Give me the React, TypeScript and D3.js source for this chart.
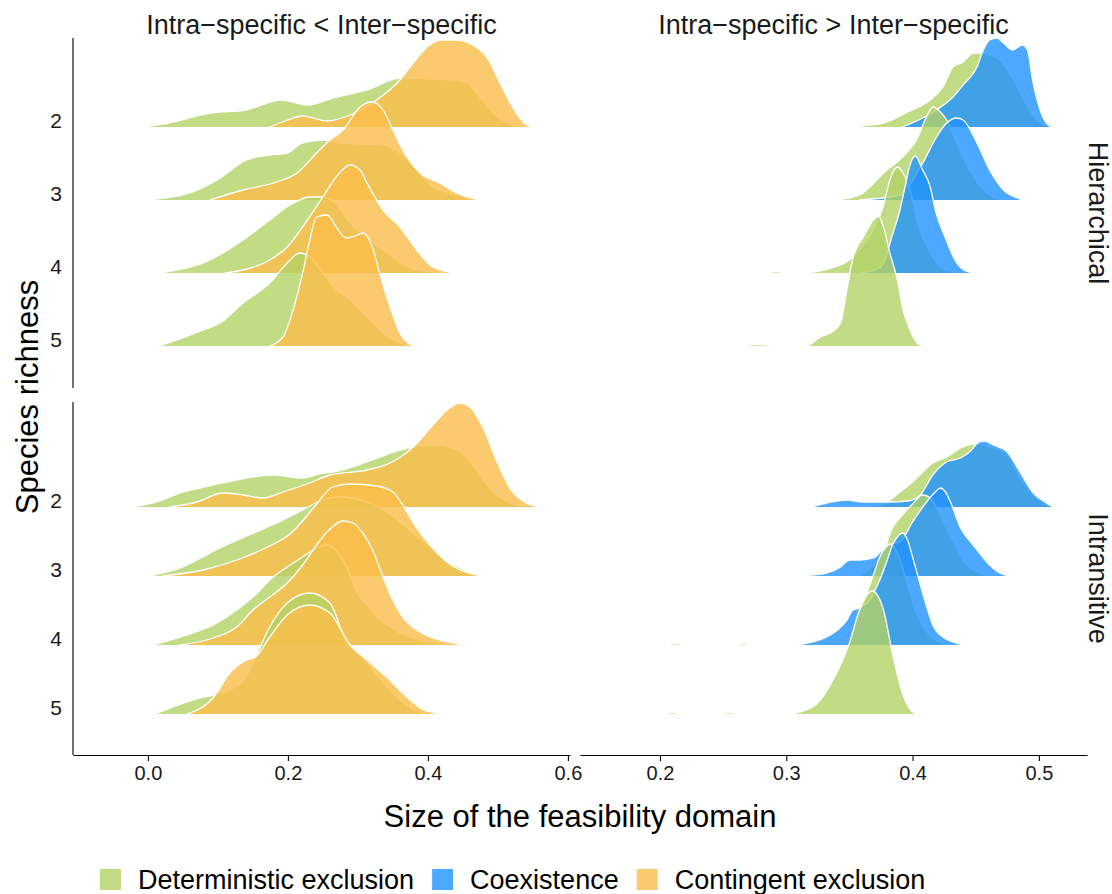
import React, { useEffect, useRef } from 'react'
import * as d3 from 'd3'

const colLabels = ['Intra\u2212specific < Inter\u2212specific', 'Intra\u2212specific > Inter\u2212specific']
const rowLabels = ['Hierarchical', 'Intransitive']
const richness = ['2', '3', '4', '5']
const groupNames = ['Deterministic exclusion', 'Coexistence', 'Contingent exclusion']
const groupColors = ['#b3d267', '#2092ff', '#fbbd4a']
const leftTicks = [0, 0.2, 0.4, 0.6]
const rightTicks = [0.2, 0.3, 0.4, 0.5]

// density curves: [size of feasibility domain, density]
// Hierarchical, intra < inter
const hlDet2 = [[-0.01, 0], [0.03, 0.04], [0.09, 0.14], [0.14, 0.17], [0.19, 0.27], [0.23, 0.22], [0.264, 0.29], [0.313, 0.37], [0.36, 0.49], [0.403, 0.48], [0.439, 0.47], [0.456, 0.44], [0.474, 0.3], [0.493, 0.14], [0.521, 0.02], [0.541, 0]]
const hlCont2 = [[0.174, 0], [0.196, 0.06], [0.221, 0.11], [0.256, 0.06], [0.289, 0.12], [0.327, 0.27], [0.36, 0.47], [0.379, 0.64], [0.399, 0.8], [0.417, 0.87], [0.441, 0.87], [0.464, 0.82], [0.484, 0.7], [0.503, 0.44], [0.521, 0.2], [0.541, 0.02], [0.553, 0]]
const hlDet3 = [[-0.001, 0], [0.06, 0.07], [0.099, 0.2], [0.141, 0.4], [0.174, 0.45], [0.199, 0.47], [0.221, 0.57], [0.25, 0.6], [0.274, 0.57], [0.336, 0.55], [0.36, 0.47], [0.384, 0.3], [0.407, 0.13], [0.431, 0.07], [0.464, 0]]
const hlCont3 = [[0.089, 0], [0.136, 0.1], [0.184, 0.18], [0.213, 0.27], [0.241, 0.47], [0.26, 0.6], [0.279, 0.7], [0.303, 0.93], [0.32, 0.98], [0.336, 0.9], [0.35, 0.7], [0.37, 0.43], [0.389, 0.27], [0.417, 0.17], [0.441, 0.07], [0.474, 0]]
const hlDet4 = [[0.017, 0], [0.079, 0.1], [0.136, 0.33], [0.174, 0.53], [0.203, 0.68], [0.231, 0.76], [0.25, 0.76], [0.267, 0.7], [0.289, 0.5], [0.336, 0.23], [0.374, 0.05], [0.417, 0]]
const hlCont4 = [[0.11, 0], [0.121, 0.01], [0.174, 0.13], [0.199, 0.26], [0.221, 0.46], [0.25, 0.76], [0.27, 0.97], [0.289, 1.08], [0.303, 1.03], [0.313, 0.9], [0.336, 0.63], [0.36, 0.46], [0.384, 0.23], [0.407, 0.06], [0.439, 0]]
const hlDet5 = [[0.017, 0], [0.079, 0.16], [0.103, 0.23], [0.136, 0.43], [0.174, 0.63], [0.199, 0.83], [0.217, 0.93], [0.231, 0.89], [0.246, 0.77], [0.264, 0.6], [0.289, 0.46], [0.313, 0.29], [0.336, 0.13], [0.36, 0.03], [0.374, 0]]
const hlCont5 = [[0.174, 0], [0.193, 0.09], [0.207, 0.35], [0.221, 0.73], [0.231, 1.05], [0.241, 1.29], [0.256, 1.31], [0.27, 1.18], [0.284, 1.08], [0.296, 1.1], [0.307, 1.13], [0.32, 1.0], [0.331, 0.73], [0.346, 0.39], [0.36, 0.13], [0.374, 0.02], [0.384, 0]]

// Hierarchical, intra > inter
const hrDet2 = [[0.348, 0], [0.377, 0.04], [0.396, 0.15], [0.414, 0.27], [0.424, 0.4], [0.432, 0.6], [0.44, 0.65], [0.448, 0.74], [0.453, 0.74], [0.467, 0.69], [0.475, 0.57], [0.483, 0.4], [0.491, 0.2], [0.501, 0.04], [0.509, 0]]
const hrCoex2 = [[0.392, 0], [0.419, 0.17], [0.432, 0.3], [0.44, 0.42], [0.451, 0.6], [0.456, 0.77], [0.461, 0.87], [0.467, 0.89], [0.472, 0.84], [0.479, 0.77], [0.487, 0.82], [0.491, 0.77], [0.495, 0.47], [0.501, 0.17], [0.506, 0.04], [0.511, 0]]
const hrDet3 = [[0.34, 0], [0.358, 0.05], [0.377, 0.27], [0.392, 0.43], [0.403, 0.6], [0.411, 0.83], [0.416, 0.93], [0.422, 0.88], [0.427, 0.8], [0.435, 0.57], [0.445, 0.3], [0.456, 0.1], [0.469, 0]]
const hrCoex3 = [[0.358, 0], [0.39, 0.05], [0.408, 0.37], [0.419, 0.63], [0.427, 0.77], [0.435, 0.82], [0.44, 0.8], [0.451, 0.57], [0.461, 0.3], [0.472, 0.1], [0.483, 0.02], [0.487, 0]]
const hrDet4 = [[0.285, 0], [0.293, 0.015], [0.3, 0], [0.311, 0], [0.343, 0.08], [0.358, 0.23], [0.369, 0.43], [0.377, 0.68], [0.382, 0.93], [0.388, 1.06], [0.392, 1.01], [0.398, 0.83], [0.404, 0.5], [0.414, 0.2], [0.422, 0.06], [0.432, 0.01], [0.44, 0]]
const hrCoex4 = [[0.358, 0], [0.374, 0.05], [0.378, 0.13], [0.384, 0.38], [0.39, 0.63], [0.394, 0.86], [0.398, 1.08], [0.402, 1.17], [0.408, 1.03], [0.414, 0.86], [0.418, 0.63], [0.426, 0.35], [0.434, 0.12], [0.442, 0.02], [0.45, 0]]
const hrDet5 = [[0.262, 0], [0.28, 0.015], [0.295, 0], [0.316, 0], [0.327, 0.09], [0.335, 0.13], [0.343, 0.23], [0.348, 0.56], [0.353, 0.89], [0.361, 1.09], [0.369, 1.26], [0.373, 1.3], [0.377, 1.19], [0.382, 0.93], [0.388, 0.66], [0.392, 0.39], [0.398, 0.16], [0.403, 0.04], [0.408, 0]]

// Intransitive, intra < inter
const ilDet2 = [[-0.023, 0], [0.013, 0.05], [0.046, 0.14], [0.093, 0.22], [0.141, 0.29], [0.179, 0.32], [0.221, 0.29], [0.25, 0.34], [0.264, 0.35], [0.313, 0.45], [0.36, 0.57], [0.379, 0.6], [0.407, 0.62], [0.436, 0.59], [0.456, 0.49], [0.474, 0.32], [0.493, 0.15], [0.517, 0.04], [0.541, 0]]
const ilCont2 = [[0.031, 0], [0.07, 0.05], [0.107, 0.14], [0.136, 0.12], [0.164, 0.09], [0.193, 0.15], [0.231, 0.24], [0.26, 0.32], [0.313, 0.37], [0.346, 0.44], [0.379, 0.6], [0.407, 0.82], [0.431, 0.99], [0.446, 1.04], [0.46, 1.0], [0.479, 0.79], [0.499, 0.45], [0.517, 0.19], [0.541, 0.04], [0.56, 0]]
const ilDet3 = [[0.003, 0], [0.046, 0.08], [0.103, 0.28], [0.141, 0.4], [0.184, 0.53], [0.221, 0.66], [0.246, 0.75], [0.274, 0.79], [0.313, 0.74], [0.341, 0.64], [0.37, 0.48], [0.399, 0.31], [0.421, 0.18], [0.446, 0.08], [0.474, 0]]
const ilCont3 = [[0.021, 0], [0.079, 0.06], [0.127, 0.16], [0.174, 0.3], [0.203, 0.42], [0.221, 0.55], [0.241, 0.72], [0.264, 0.89], [0.289, 0.92], [0.327, 0.9], [0.35, 0.84], [0.364, 0.71], [0.384, 0.48], [0.407, 0.28], [0.427, 0.14], [0.446, 0.06], [0.464, 0.02], [0.481, 0]]
const ilDet4 = [[0.007, 0], [0.056, 0.1], [0.093, 0.2], [0.127, 0.35], [0.156, 0.52], [0.174, 0.65], [0.199, 0.78], [0.221, 0.88], [0.241, 0.97], [0.256, 1.0], [0.274, 0.9], [0.289, 0.7], [0.299, 0.52], [0.313, 0.4], [0.327, 0.28], [0.346, 0.18], [0.36, 0.12], [0.389, 0.05], [0.417, 0.02], [0.446, 0]]
const ilCont4 = [[0.046, 0], [0.093, 0.07], [0.127, 0.18], [0.15, 0.35], [0.174, 0.48], [0.199, 0.62], [0.221, 0.8], [0.241, 1.0], [0.256, 1.13], [0.279, 1.24], [0.293, 1.22], [0.307, 1.12], [0.321, 0.95], [0.336, 0.68], [0.35, 0.45], [0.364, 0.28], [0.384, 0.15], [0.417, 0.05], [0.456, 0]]
const ilDet5 = [[0.01, 0], [0.074, 0.16], [0.093, 0.19], [0.117, 0.24], [0.141, 0.38], [0.154, 0.57], [0.174, 0.87], [0.199, 1.11], [0.231, 1.21], [0.26, 1.11], [0.284, 0.71], [0.299, 0.61], [0.321, 0.44], [0.35, 0.21], [0.379, 0.04], [0.407, 0]]
const ilCont5 = [[0.056, 0], [0.093, 0.16], [0.117, 0.41], [0.141, 0.54], [0.154, 0.57], [0.174, 0.77], [0.199, 0.99], [0.231, 1.09], [0.26, 1.01], [0.289, 0.69], [0.313, 0.54], [0.341, 0.37], [0.37, 0.17], [0.394, 0.04], [0.421, 0]]

// Intransitive, intra > inter
const irDet2 = [[0.37, 0], [0.38, 0.05], [0.39, 0.15], [0.4, 0.25], [0.416, 0.44], [0.427, 0.5], [0.438, 0.59], [0.448, 0.63], [0.456, 0.62], [0.464, 0.59], [0.475, 0.52], [0.485, 0.29], [0.495, 0.12], [0.506, 0.02], [0.513, 0]]
const irCoex2 = [[0.319, 0], [0.332, 0.04], [0.348, 0.07], [0.361, 0.05], [0.372, 0.05], [0.382, 0.05], [0.396, 0.06], [0.406, 0.12], [0.416, 0.32], [0.427, 0.45], [0.438, 0.49], [0.445, 0.55], [0.453, 0.65], [0.457, 0.66], [0.464, 0.62], [0.475, 0.55], [0.485, 0.35], [0.495, 0.15], [0.506, 0.04], [0.511, 0]]
const irDet3 = [[0.358, 0], [0.369, 0.11], [0.377, 0.24], [0.384, 0.48], [0.392, 0.61], [0.4, 0.72], [0.408, 0.81], [0.414, 0.78], [0.419, 0.68], [0.426, 0.5], [0.434, 0.3], [0.441, 0.14], [0.451, 0.04], [0.461, 0]]
const irCoex3 = [[0.308, 0], [0.332, 0.03], [0.343, 0.09], [0.35, 0.16], [0.358, 0.16], [0.369, 0.18], [0.38, 0.31], [0.39, 0.34], [0.4, 0.54], [0.411, 0.74], [0.418, 0.84], [0.422, 0.88], [0.426, 0.84], [0.43, 0.74], [0.438, 0.48], [0.448, 0.31], [0.461, 0.11], [0.469, 0.03], [0.477, 0]]
const irDet4 = [[0.205, 0], [0.213, 0.015], [0.222, 0], [0.258, 0], [0.266, 0.015], [0.274, 0], [0.343, 0], [0.35, 0.05], [0.357, 0.25], [0.362, 0.45], [0.369, 0.7], [0.374, 0.88], [0.379, 0.98], [0.382, 1.01], [0.386, 0.97], [0.39, 0.85], [0.396, 0.6], [0.402, 0.35], [0.41, 0.15], [0.418, 0.05], [0.426, 0]]
const irCoex4 = [[0.308, 0], [0.332, 0.08], [0.348, 0.25], [0.353, 0.35], [0.358, 0.37], [0.366, 0.45], [0.374, 0.65], [0.38, 0.85], [0.384, 1.0], [0.388, 1.08], [0.392, 1.12], [0.396, 1.05], [0.4, 0.88], [0.404, 0.7], [0.408, 0.52], [0.412, 0.35], [0.416, 0.2], [0.424, 0.08], [0.432, 0.03], [0.44, 0]]
const irDet5 = [[0.202, 0], [0.21, 0.015], [0.218, 0], [0.247, 0], [0.255, 0.015], [0.263, 0], [0.303, 0], [0.311, 0.02], [0.327, 0.14], [0.337, 0.34], [0.35, 0.71], [0.358, 1.04], [0.368, 1.23], [0.377, 1.04], [0.384, 0.61], [0.392, 0.21], [0.4, 0.02], [0.404, 0]]

type Ridge = { row: number; col: number; rich: string; group: number; pts: number[][] }

const ridges: Ridge[] = [
  { row: 0, col: 0, rich: '2', group: 0, pts: hlDet2 },
  { row: 0, col: 0, rich: '2', group: 2, pts: hlCont2 },
  { row: 0, col: 0, rich: '3', group: 0, pts: hlDet3 },
  { row: 0, col: 0, rich: '3', group: 2, pts: hlCont3 },
  { row: 0, col: 0, rich: '4', group: 0, pts: hlDet4 },
  { row: 0, col: 0, rich: '4', group: 2, pts: hlCont4 },
  { row: 0, col: 0, rich: '5', group: 0, pts: hlDet5 },
  { row: 0, col: 0, rich: '5', group: 2, pts: hlCont5 },
  { row: 0, col: 1, rich: '2', group: 0, pts: hrDet2 },
  { row: 0, col: 1, rich: '2', group: 1, pts: hrCoex2 },
  { row: 0, col: 1, rich: '3', group: 0, pts: hrDet3 },
  { row: 0, col: 1, rich: '3', group: 1, pts: hrCoex3 },
  { row: 0, col: 1, rich: '4', group: 0, pts: hrDet4 },
  { row: 0, col: 1, rich: '4', group: 1, pts: hrCoex4 },
  { row: 0, col: 1, rich: '5', group: 0, pts: hrDet5 },
  { row: 1, col: 0, rich: '2', group: 0, pts: ilDet2 },
  { row: 1, col: 0, rich: '2', group: 2, pts: ilCont2 },
  { row: 1, col: 0, rich: '3', group: 0, pts: ilDet3 },
  { row: 1, col: 0, rich: '3', group: 2, pts: ilCont3 },
  { row: 1, col: 0, rich: '4', group: 0, pts: ilDet4 },
  { row: 1, col: 0, rich: '4', group: 2, pts: ilCont4 },
  { row: 1, col: 0, rich: '5', group: 0, pts: ilDet5 },
  { row: 1, col: 0, rich: '5', group: 2, pts: ilCont5 },
  { row: 1, col: 1, rich: '2', group: 0, pts: irDet2 },
  { row: 1, col: 1, rich: '2', group: 1, pts: irCoex2 },
  { row: 1, col: 1, rich: '3', group: 0, pts: irDet3 },
  { row: 1, col: 1, rich: '3', group: 1, pts: irCoex3 },
  { row: 1, col: 1, rich: '4', group: 0, pts: irDet4 },
  { row: 1, col: 1, rich: '4', group: 1, pts: irCoex4 },
  { row: 1, col: 1, rich: '5', group: 0, pts: irDet5 },
]

const FONT = 'Liberation Sans, Arial, Helvetica, sans-serif'

function App() {
  const ref = useRef<SVGSVGElement>(null)

  useEffect(() => {
    document.body.style.margin = '0'
    const svg = d3.select(ref.current)
    svg.selectAll('*').remove()

    const colRanges = [[73, 570], [580, 1087]]
    const xDomains = [[-0.107, 0.603], [0.1367, 0.5381]]
    const rowRanges = [[38, 388], [402, 755]]
    const baseRanges = [[127, 346], [507, 714]]
    const xAxisY = 755
    const h = d3.scaleLinear().domain([0, 1]).range([0, 100])

    const defs = svg.append('defs')

    for (let row = 0; row < 2; row++) {
      const yb = d3.scalePoint().domain(richness).range(baseRanges[row])
      for (let col = 0; col < 2; col++) {
        const x = d3.scaleLinear().domain(xDomains[col]).range(colRanges[col])
        const id = `clip-${row}-${col}`
        defs.append('clipPath').attr('id', id)
          .append('rect')
          .attr('x', colRanges[col][0]).attr('y', rowRanges[row][0])
          .attr('width', colRanges[col][1] - colRanges[col][0])
          .attr('height', rowRanges[row][1] - rowRanges[row][0])

        const g = svg.append('g').attr('clip-path', `url(#${id})`)

        for (const rich of richness) {
          const base = yb(rich) as number
          for (let group = 0; group < 3; group++) {
            const r = ridges.find(d => d.row === row && d.col === col && d.rich === rich && d.group === group)
            if (!r) continue
            const area = d3.area<number[]>()
              .x(d => x(d[0]))
              .y0(base)
              .y1(d => base - h(d[1]))
              .curve(d3.curveMonotoneX)
            const line = d3.line<number[]>()
              .x(d => x(d[0]))
              .y(d => base - h(d[1]))
              .curve(d3.curveMonotoneX)
            g.append('path')
              .attr('d', area(r.pts))
              .attr('fill', groupColors[group])
              .attr('fill-opacity', 0.8)
            g.append('path')
              .attr('d', line(r.pts))
              .attr('fill', 'none')
              .attr('stroke', 'white')
              .attr('stroke-width', 1.3)
          }
        }
      }

      // y axis for this row
      const ya = svg.append('g')
        .attr('transform', 'translate(73,0)')
        .call(d3.axisLeft(yb).tickSize(0).tickPadding(11).tickSizeOuter(0))
      ya.select('.domain').remove()
      ya.append('line')
        .attr('y1', rowRanges[row][0]).attr('y2', rowRanges[row][1])
        .attr('stroke', 'black').attr('stroke-width', 1.1)
      ya.selectAll('text')
        .attr('dy', '0')
        .attr('fill', '#1a1a1a')
        .style('font-family', FONT)
        .style('font-size', '21px')

      // row strip label
      const cy = (rowRanges[row][0] + rowRanges[row][1]) / 2
      svg.append('text')
        .attr('transform', `translate(1098,${cy}) rotate(90)`)
        .attr('text-anchor', 'middle')
        .attr('dominant-baseline', 'central')
        .style('font-family', FONT)
        .style('font-size', '27px')
        .attr('fill', '#1a1a1a')
        .text(rowLabels[row])
    }

    for (let col = 0; col < 2; col++) {
      const x = d3.scaleLinear().domain(xDomains[col]).range(colRanges[col])
      const xa = svg.append('g')
        .attr('transform', `translate(0,${xAxisY})`)
        .call(d3.axisBottom(x)
          .tickValues(col === 0 ? leftTicks : rightTicks)
          .tickFormat(d3.format('.1f'))
          .tickSize(6)
          .tickSizeOuter(0)
          .tickPadding(5))
      xa.select('.domain').attr('stroke-width', 1.1)
      xa.selectAll('.tick line').attr('stroke-width', 1.1)
      xa.selectAll('text')
        .attr('fill', '#1a1a1a')
        .style('font-family', FONT)
        .style('font-size', '20px')

      svg.append('text')
        .attr('x', (colRanges[col][0] + colRanges[col][1]) / 2)
        .attr('y', 25)
        .attr('text-anchor', 'middle')
        .attr('dominant-baseline', 'central')
        .style('font-family', FONT)
        .style('font-size', '27px')
        .attr('fill', '#1a1a1a')
        .text(colLabels[col])
    }

    svg.append('text')
      .attr('transform', 'translate(27,397) rotate(-90)')
      .attr('text-anchor', 'middle')
      .attr('dominant-baseline', 'central')
      .style('font-family', FONT)
      .style('font-size', '31px')
      .text('Species richness')

    svg.append('text')
      .attr('x', 580)
      .attr('y', 816)
      .attr('text-anchor', 'middle')
      .attr('dominant-baseline', 'central')
      .style('font-family', FONT)
      .style('font-size', '31px')
      .text('Size of the feasibility domain')

    // legend
    const legend = svg.append('g').attr('transform', 'translate(100,880)')
    let lx = 0
    groupNames.forEach((name, i) => {
      legend.append('rect')
        .attr('x', lx).attr('y', -11)
        .attr('width', 21).attr('height', 21)
        .attr('fill', groupColors[i])
        .attr('fill-opacity', 0.8)
      const t = legend.append('text')
        .attr('x', lx + 38)
        .attr('y', 0)
        .attr('dominant-baseline', 'central')
        .style('font-family', FONT)
        .style('font-size', '27px')
        .text(name)
      const w = (t.node() as SVGTextElement).getComputedTextLength()
      lx += 38 + w + 18
    })
  }, [])

  return <svg ref={ref} width={1112} height={894} style={{ display: 'block', background: 'white' }} />
}

export default App
